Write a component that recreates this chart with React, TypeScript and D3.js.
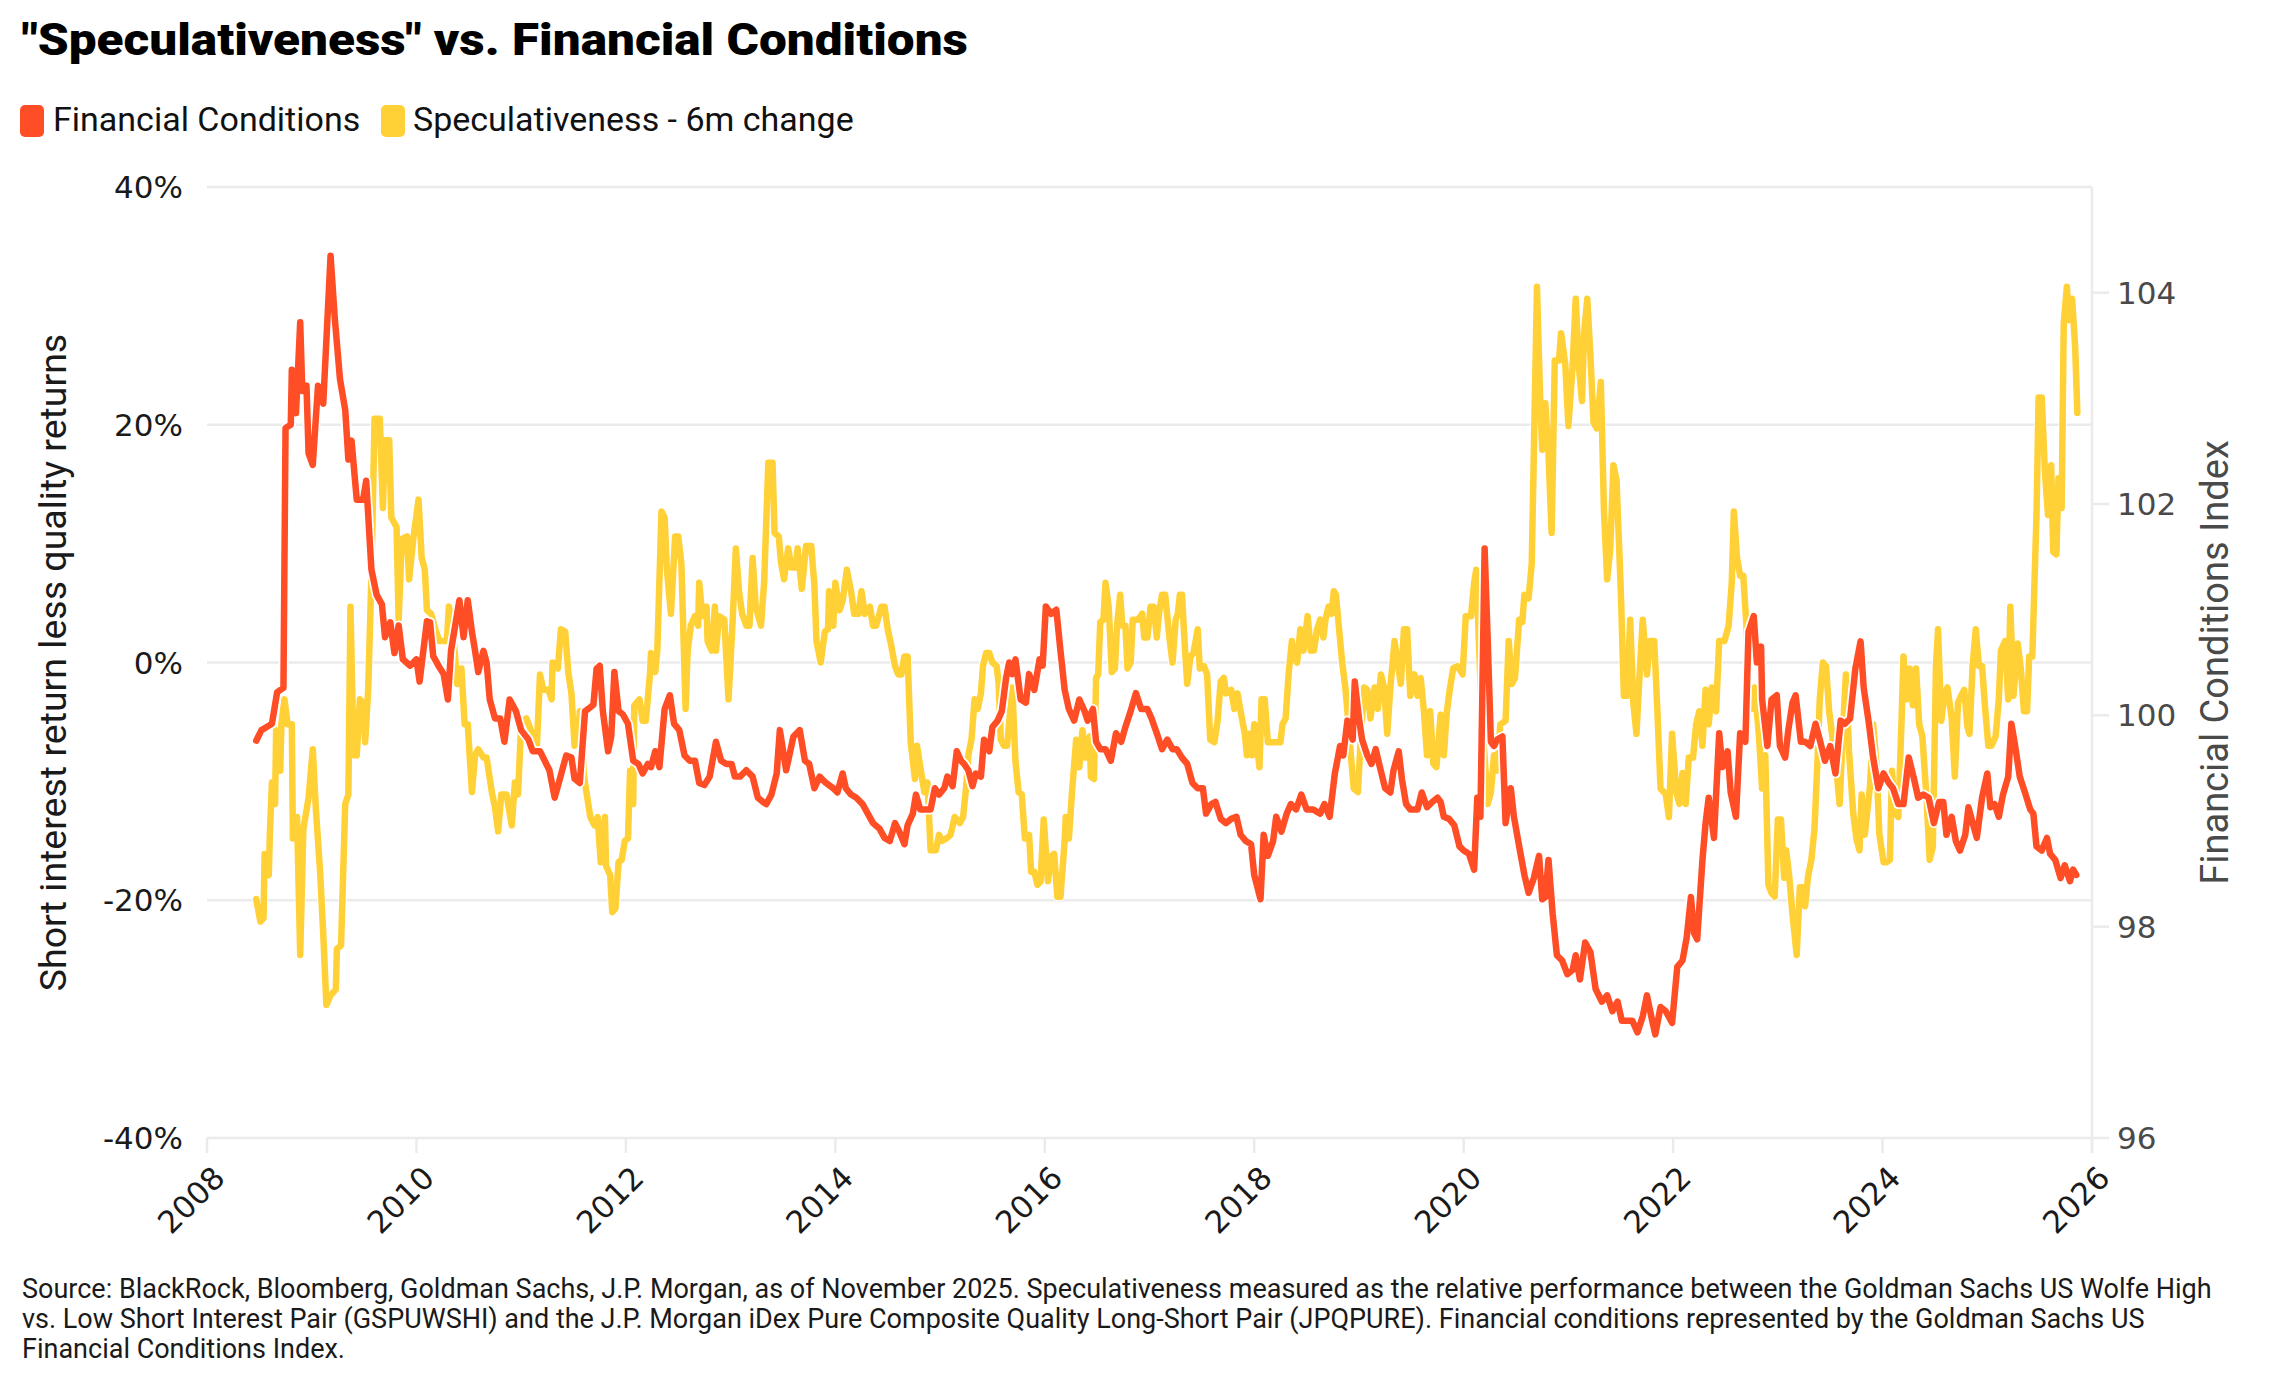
import React, { useEffect } from "react";
import * as d3 from "d3";

const xTicks = [2008, 2010, 2012, 2014, 2016, 2018, 2020, 2022, 2024, 2026];
const leftTicks = [-40, -20, 0, 20, 40];
const rightTicks = [96, 98, 100, 102, 104];

const titleText = '"Speculativeness" vs. Financial Conditions';
const legendItems = ["Financial Conditions", "Speculativeness - 6m change"];
const leftTitle = "Short interest return less quality returns";
const rightTitle = "Financial Conditions Index";
const footLines = [
  "Source: BlackRock, Bloomberg, Goldman Sachs, J.P. Morgan, as of November 2025. Speculativeness measured as the relative performance between the Goldman Sachs US Wolfe High",
  "vs. Low Short Interest Pair (GSPUWSHI) and the J.P. Morgan iDex Pure Composite Quality Long-Short Pair (JPQPURE). Financial conditions represented by the Goldman Sachs US",
  "Financial Conditions Index.",
];

// Financial Conditions Index (right axis): [year, index]
const fciSeries: [number, number][] = [
  [2008.47, 99.76], [2008.52, 99.86], [2008.57, 99.89], [2008.62, 99.92], [2008.67, 100.22], [2008.73, 100.26],
  [2008.75, 102.72], [2008.8, 102.75], [2008.81, 103.27], [2008.85, 102.86], [2008.89, 103.72], [2008.91, 103.07],
  [2008.95, 103.12], [2008.97, 102.48], [2009.01, 102.37], [2009.06, 103.12], [2009.11, 102.95], [2009.18, 104.35],
  [2009.22, 103.76], [2009.27, 103.18], [2009.32, 102.89], [2009.35, 102.42], [2009.38, 102.6], [2009.43, 102.04],
  [2009.49, 102.04], [2009.52, 102.22], [2009.57, 101.38], [2009.62, 101.14], [2009.67, 101.05], [2009.7, 100.74],
  [2009.75, 100.88], [2009.79, 100.59], [2009.83, 100.85], [2009.87, 100.53], [2009.94, 100.47], [2010.0, 100.53],
  [2010.03, 100.32], [2010.1, 100.89], [2010.13, 100.88], [2010.16, 100.56], [2010.21, 100.47], [2010.26, 100.39],
  [2010.3, 100.15], [2010.33, 100.61], [2010.38, 100.91], [2010.41, 101.09], [2010.45, 100.74], [2010.49, 101.09],
  [2010.53, 100.79], [2010.56, 100.61], [2010.59, 100.41], [2010.64, 100.61], [2010.67, 100.5], [2010.7, 100.15],
  [2010.75, 99.97], [2010.8, 99.97], [2010.84, 99.75], [2010.89, 100.15], [2010.95, 100.04], [2011.0, 99.86],
  [2011.07, 99.77], [2011.11, 99.66], [2011.18, 99.66], [2011.24, 99.54], [2011.27, 99.48], [2011.32, 99.22],
  [2011.37, 99.4], [2011.43, 99.62], [2011.48, 99.6], [2011.51, 99.4], [2011.56, 99.36], [2011.61, 100.04],
  [2011.64, 100.06], [2011.69, 100.1], [2011.72, 100.44], [2011.75, 100.47], [2011.78, 100.04], [2011.83, 99.66],
  [2011.86, 99.8], [2011.89, 100.41], [2011.93, 100.04], [2011.97, 100.01], [2012.02, 99.92], [2012.07, 99.57],
  [2012.12, 99.54], [2012.16, 99.45], [2012.21, 99.54], [2012.24, 99.51], [2012.28, 99.66], [2012.32, 99.51],
  [2012.37, 100.06], [2012.42, 100.19], [2012.46, 99.92], [2012.51, 99.86], [2012.56, 99.62], [2012.61, 99.57],
  [2012.66, 99.57], [2012.7, 99.36], [2012.75, 99.34], [2012.8, 99.42], [2012.86, 99.75], [2012.91, 99.57],
  [2012.96, 99.54], [2013.01, 99.54], [2013.04, 99.42], [2013.09, 99.42], [2013.15, 99.48], [2013.21, 99.42],
  [2013.26, 99.22], [2013.31, 99.18], [2013.34, 99.16], [2013.39, 99.25], [2013.44, 99.45], [2013.47, 99.86],
  [2013.53, 99.48], [2013.6, 99.8], [2013.66, 99.86], [2013.71, 99.57], [2013.75, 99.54], [2013.8, 99.31],
  [2013.85, 99.42], [2013.91, 99.36], [2013.98, 99.31], [2014.02, 99.27], [2014.07, 99.45], [2014.1, 99.31],
  [2014.15, 99.25], [2014.2, 99.22], [2014.26, 99.16], [2014.31, 99.07], [2014.36, 98.98], [2014.42, 98.93],
  [2014.47, 98.84], [2014.52, 98.81], [2014.57, 98.98], [2014.61, 98.9], [2014.66, 98.78], [2014.69, 98.96],
  [2014.74, 99.07], [2014.77, 99.25], [2014.81, 99.11], [2014.87, 99.11], [2014.91, 99.11], [2014.95, 99.31],
  [2014.99, 99.25], [2015.04, 99.31], [2015.07, 99.42], [2015.12, 99.33], [2015.16, 99.66], [2015.2, 99.57],
  [2015.23, 99.54], [2015.27, 99.48], [2015.31, 99.33], [2015.34, 99.45], [2015.39, 99.42], [2015.42, 99.77],
  [2015.47, 99.66], [2015.5, 99.89], [2015.55, 99.95], [2015.59, 100.04], [2015.63, 100.35], [2015.66, 100.5],
  [2015.69, 100.39], [2015.72, 100.53], [2015.77, 100.15], [2015.82, 100.12], [2015.85, 100.39], [2015.9, 100.24],
  [2015.95, 100.53], [2015.98, 100.47], [2016.01, 101.03], [2016.06, 100.96], [2016.11, 101.0], [2016.15, 100.61],
  [2016.19, 100.24], [2016.23, 100.06], [2016.28, 99.95], [2016.33, 100.15], [2016.38, 100.04], [2016.41, 99.95],
  [2016.46, 100.06], [2016.49, 99.75], [2016.53, 99.68], [2016.58, 99.68], [2016.63, 99.57], [2016.68, 99.83],
  [2016.73, 99.75], [2016.77, 99.89], [2016.82, 100.04], [2016.87, 100.21], [2016.92, 100.06], [2016.98, 100.06],
  [2017.02, 99.97], [2017.07, 99.83], [2017.12, 99.68], [2017.17, 99.77], [2017.22, 99.68], [2017.26, 99.68],
  [2017.31, 99.6], [2017.36, 99.54], [2017.41, 99.36], [2017.46, 99.31], [2017.51, 99.31], [2017.54, 99.07],
  [2017.59, 99.16], [2017.63, 99.18], [2017.68, 99.02], [2017.73, 98.98], [2017.78, 99.02], [2017.83, 99.04],
  [2017.87, 98.87], [2017.92, 98.81], [2017.97, 98.78], [2018.0, 98.49], [2018.06, 98.26], [2018.09, 98.87],
  [2018.13, 98.67], [2018.18, 98.81], [2018.21, 99.04], [2018.26, 98.9], [2018.31, 99.07], [2018.35, 99.16],
  [2018.4, 99.11], [2018.45, 99.25], [2018.5, 99.11], [2018.56, 99.11], [2018.63, 99.07], [2018.67, 99.16],
  [2018.72, 99.04], [2018.77, 99.45], [2018.82, 99.71], [2018.85, 99.62], [2018.89, 99.95], [2018.94, 99.77],
  [2018.96, 100.32], [2019.0, 99.97], [2019.03, 99.77], [2019.08, 99.62], [2019.12, 99.54], [2019.16, 99.68],
  [2019.2, 99.51], [2019.25, 99.31], [2019.3, 99.27], [2019.33, 99.48], [2019.38, 99.66], [2019.41, 99.4],
  [2019.45, 99.16], [2019.49, 99.11], [2019.56, 99.11], [2019.6, 99.27], [2019.65, 99.13], [2019.7, 99.18],
  [2019.75, 99.22], [2019.78, 99.18], [2019.81, 99.04], [2019.86, 99.02], [2019.91, 98.96], [2019.96, 98.76],
  [2020.0, 98.72], [2020.05, 98.69], [2020.1, 98.54], [2020.13, 99.22], [2020.16, 99.04], [2020.2, 101.58],
  [2020.23, 100.7], [2020.26, 99.75], [2020.29, 99.71], [2020.32, 99.77], [2020.37, 99.8], [2020.4, 98.98],
  [2020.45, 99.31], [2020.48, 99.04], [2020.53, 98.76], [2020.58, 98.49], [2020.62, 98.32], [2020.67, 98.46],
  [2020.72, 98.67], [2020.75, 98.26], [2020.78, 98.28], [2020.81, 98.63], [2020.85, 98.12], [2020.89, 97.73],
  [2020.94, 97.68], [2020.99, 97.55], [2021.04, 97.59], [2021.07, 97.73], [2021.11, 97.5], [2021.16, 97.85],
  [2021.21, 97.76], [2021.26, 97.41], [2021.32, 97.29], [2021.37, 97.35], [2021.42, 97.2], [2021.47, 97.29],
  [2021.51, 97.11], [2021.56, 97.11], [2021.61, 97.11], [2021.66, 97.0], [2021.71, 97.15], [2021.75, 97.35],
  [2021.8, 97.11], [2021.83, 96.98], [2021.88, 97.24], [2021.93, 97.2], [2021.99, 97.09], [2022.04, 97.62],
  [2022.09, 97.68], [2022.13, 97.9], [2022.17, 98.28], [2022.2, 97.94], [2022.23, 97.88], [2022.28, 98.63],
  [2022.31, 98.98], [2022.34, 99.22], [2022.39, 98.84], [2022.44, 99.83], [2022.47, 99.51], [2022.52, 99.66],
  [2022.55, 99.27], [2022.6, 99.04], [2022.64, 99.83], [2022.69, 99.75], [2022.72, 100.79], [2022.77, 100.94],
  [2022.8, 100.5], [2022.84, 100.65], [2022.85, 100.15], [2022.9, 99.71], [2022.94, 100.15], [2022.99, 100.19],
  [2023.02, 99.71], [2023.07, 99.6], [2023.1, 99.86], [2023.14, 100.12], [2023.17, 100.19], [2023.22, 99.75],
  [2023.26, 99.75], [2023.31, 99.71], [2023.36, 99.92], [2023.4, 99.77], [2023.45, 99.57], [2023.5, 99.71],
  [2023.55, 99.45], [2023.6, 99.95], [2023.64, 99.92], [2023.69, 99.97], [2023.74, 100.44], [2023.79, 100.7],
  [2023.82, 100.26], [2023.87, 99.92], [2023.91, 99.6], [2023.96, 99.31], [2024.01, 99.45], [2024.06, 99.36],
  [2024.1, 99.31], [2024.15, 99.16], [2024.2, 99.16], [2024.25, 99.6], [2024.3, 99.4], [2024.34, 99.22],
  [2024.39, 99.25], [2024.44, 99.22], [2024.49, 98.98], [2024.54, 99.18], [2024.58, 99.18], [2024.61, 98.87],
  [2024.66, 99.04], [2024.7, 98.81], [2024.74, 98.72], [2024.79, 98.87], [2024.82, 99.13], [2024.85, 99.02],
  [2024.9, 98.84], [2024.95, 99.22], [2025.0, 99.45], [2025.03, 99.13], [2025.07, 99.16], [2025.11, 99.04],
  [2025.15, 99.25], [2025.2, 99.42], [2025.23, 99.92], [2025.26, 99.75], [2025.31, 99.42], [2025.36, 99.27],
  [2025.41, 99.11], [2025.44, 99.07], [2025.47, 98.76], [2025.52, 98.72], [2025.57, 98.84], [2025.6, 98.69],
  [2025.65, 98.63], [2025.7, 98.46], [2025.74, 98.58], [2025.79, 98.43], [2025.82, 98.54], [2025.85, 98.49],
];

// Speculativeness 6m change (left axis, %): [year, value]
const specSeries: [number, number][] = [
  [2008.47, -19.9], [2008.51, -21.8], [2008.54, -21.5], [2008.55, -16.1], [2008.59, -17.9], [2008.6, -14.5],
  [2008.62, -10.1], [2008.65, -11.9], [2008.66, -5.7], [2008.7, -9.1], [2008.71, -5.2], [2008.74, -3.1],
  [2008.77, -5.2], [2008.81, -5.2], [2008.82, -14.8], [2008.86, -13.0], [2008.89, -24.6], [2008.92, -14.0],
  [2008.97, -11.4], [2009.01, -7.3], [2009.04, -12.4], [2009.08, -17.6], [2009.11, -22.8], [2009.14, -28.8],
  [2009.18, -28.0], [2009.23, -27.5], [2009.24, -24.1], [2009.28, -23.8], [2009.32, -11.9], [2009.35, -11.1],
  [2009.37, 4.7], [2009.4, -7.8], [2009.43, -7.8], [2009.46, -3.1], [2009.49, -3.4], [2009.51, -6.7],
  [2009.54, -2.1], [2009.57, 7.3], [2009.6, 20.5], [2009.65, 20.5], [2009.68, 13.0], [2009.7, 18.7],
  [2009.74, 18.7], [2009.76, 12.2], [2009.81, 11.4], [2009.83, 3.6], [2009.86, 10.4], [2009.91, 10.6],
  [2009.93, 7.0], [2009.97, 10.4], [2010.02, 13.7], [2010.05, 8.8], [2010.08, 7.8], [2010.1, 4.4],
  [2010.14, 4.1], [2010.18, 2.8], [2010.22, 1.8], [2010.29, 1.8], [2010.31, 4.7], [2010.35, 2.6],
  [2010.39, -1.8], [2010.43, -0.5], [2010.46, -5.2], [2010.49, -5.2], [2010.53, -10.9], [2010.56, -7.8],
  [2010.59, -7.3], [2010.64, -8.0], [2010.67, -8.0], [2010.72, -10.9], [2010.75, -12.2], [2010.78, -14.2],
  [2010.81, -11.1], [2010.86, -11.1], [2010.91, -13.7], [2010.94, -10.1], [2010.97, -11.1], [2011.0, -5.2],
  [2011.05, -4.7], [2011.15, -7.0], [2011.18, -1.0], [2011.21, -2.3], [2011.26, -2.3], [2011.29, -3.1],
  [2011.3, 0.0], [2011.35, -0.5], [2011.38, 2.8], [2011.42, 2.6], [2011.45, -0.8], [2011.48, -2.6],
  [2011.51, -7.0], [2011.54, -6.7], [2011.56, -4.1], [2011.6, -9.6], [2011.66, -13.0], [2011.7, -13.7],
  [2011.73, -13.0], [2011.76, -16.8], [2011.8, -13.0], [2011.81, -17.1], [2011.85, -17.9], [2011.87, -21.0],
  [2011.9, -20.7], [2011.93, -16.8], [2011.96, -16.6], [2011.99, -15.0], [2012.02, -14.8], [2012.04, -9.1],
  [2012.07, -11.9], [2012.08, -3.6], [2012.13, -3.1], [2012.16, -4.9], [2012.19, -4.9], [2012.23, -1.0],
  [2012.24, 0.8], [2012.28, -0.8], [2012.3, 1.0], [2012.34, 12.7], [2012.37, 12.2], [2012.39, 8.0],
  [2012.43, 4.1], [2012.47, 10.6], [2012.5, 10.6], [2012.53, 8.3], [2012.57, -3.9], [2012.59, 1.0],
  [2012.62, 3.1], [2012.66, 3.9], [2012.69, 3.1], [2012.7, 6.7], [2012.73, 3.9], [2012.77, 4.7],
  [2012.78, 1.8], [2012.82, 1.0], [2012.85, 4.7], [2012.86, 1.0], [2012.89, 3.9], [2012.94, 3.6],
  [2012.98, -3.1], [2013.02, 3.6], [2013.05, 9.6], [2013.08, 6.0], [2013.11, 4.1], [2013.15, 3.1],
  [2013.18, 3.1], [2013.21, 8.8], [2013.24, 4.7], [2013.29, 3.1], [2013.32, 6.7], [2013.36, 16.8],
  [2013.4, 16.8], [2013.42, 10.9], [2013.46, 10.6], [2013.48, 8.5], [2013.51, 7.0], [2013.55, 9.6],
  [2013.58, 8.0], [2013.62, 8.0], [2013.64, 9.6], [2013.68, 6.2], [2013.72, 9.8], [2013.77, 9.8],
  [2013.8, 6.5], [2013.82, 1.8], [2013.86, 0.0], [2013.9, 2.6], [2013.93, 2.8], [2013.94, 6.0],
  [2013.98, 3.1], [2014.0, 6.7], [2014.04, 4.4], [2014.07, 5.2], [2014.11, 7.8], [2014.15, 6.0],
  [2014.18, 4.1], [2014.22, 4.1], [2014.25, 6.0], [2014.28, 4.1], [2014.33, 4.7], [2014.36, 3.1],
  [2014.39, 3.1], [2014.44, 4.7], [2014.47, 4.7], [2014.5, 2.8], [2014.53, 1.6], [2014.57, -0.3],
  [2014.6, -1.0], [2014.63, -1.0], [2014.66, 0.5], [2014.69, 0.5], [2014.72, -6.7], [2014.76, -9.8],
  [2014.78, -7.0], [2014.82, -9.3], [2014.85, -10.9], [2014.88, -10.1], [2014.91, -15.8], [2014.96, -15.8],
  [2014.99, -14.5], [2015.02, -15.0], [2015.06, -14.8], [2015.1, -14.5], [2015.14, -13.0], [2015.19, -13.5],
  [2015.22, -13.0], [2015.25, -10.4], [2015.27, -7.8], [2015.3, -6.5], [2015.33, -3.1], [2015.36, -3.9],
  [2015.39, -2.6], [2015.41, -0.3], [2015.44, 0.8], [2015.47, 0.8], [2015.5, 0.0], [2015.54, -0.3],
  [2015.56, -1.8], [2015.58, -6.5], [2015.61, -7.0], [2015.64, -7.0], [2015.67, -4.1], [2015.69, -2.1],
  [2015.72, -8.3], [2015.75, -10.9], [2015.78, -11.1], [2015.81, -14.8], [2015.85, -14.5], [2015.87, -17.6],
  [2015.9, -17.6], [2015.93, -18.7], [2015.96, -18.4], [2015.99, -13.2], [2016.03, -18.4], [2016.06, -16.3],
  [2016.09, -16.1], [2016.12, -19.7], [2016.15, -19.7], [2016.19, -15.0], [2016.2, -13.0], [2016.23, -14.8],
  [2016.26, -10.9], [2016.3, -6.5], [2016.33, -8.8], [2016.36, -5.7], [2016.39, -8.0], [2016.43, -6.2],
  [2016.44, -9.6], [2016.47, -9.8], [2016.49, -1.3], [2016.51, -1.0], [2016.53, 3.4], [2016.56, 3.6],
  [2016.58, 6.7], [2016.61, 4.7], [2016.64, -0.8], [2016.67, -0.5], [2016.69, 3.1], [2016.72, 5.7],
  [2016.74, 3.1], [2016.77, 3.1], [2016.79, -0.5], [2016.82, 0.0], [2016.84, 3.6], [2016.89, 3.6],
  [2016.93, 4.1], [2016.95, 2.1], [2016.98, 2.1], [2017.01, 4.7], [2017.04, 4.7], [2017.07, 2.1],
  [2017.09, 4.1], [2017.12, 5.7], [2017.15, 5.7], [2017.19, 2.1], [2017.22, 0.0], [2017.25, 3.6],
  [2017.27, 4.1], [2017.29, 5.7], [2017.31, 5.7], [2017.34, 1.0], [2017.36, -1.8], [2017.39, 0.5],
  [2017.42, 0.8], [2017.46, 2.8], [2017.48, -0.5], [2017.52, -0.3], [2017.55, -1.0], [2017.58, -6.5],
  [2017.62, -6.7], [2017.65, -4.9], [2017.68, -1.6], [2017.71, -1.3], [2017.73, -2.6], [2017.78, -2.3],
  [2017.81, -3.9], [2017.84, -2.6], [2017.87, -4.1], [2017.91, -6.0], [2017.93, -7.8], [2017.95, -6.0],
  [2017.98, -7.8], [2018.0, -5.2], [2018.03, -7.3], [2018.05, -8.8], [2018.07, -3.1], [2018.1, -3.1],
  [2018.13, -6.7], [2018.17, -6.7], [2018.22, -6.7], [2018.25, -6.7], [2018.27, -5.2], [2018.3, -4.7],
  [2018.33, -0.8], [2018.36, 1.8], [2018.38, 0.3], [2018.41, 0.0], [2018.44, 2.8], [2018.47, 1.0],
  [2018.51, 3.9], [2018.54, 1.0], [2018.57, 1.0], [2018.6, 2.8], [2018.63, 3.6], [2018.66, 2.1],
  [2018.68, 3.6], [2018.71, 4.7], [2018.74, 4.1], [2018.76, 6.0], [2018.78, 5.7], [2018.84, 0.0],
  [2018.87, -2.1], [2018.89, -4.1], [2018.92, -7.5], [2018.95, -10.6], [2018.99, -10.9], [2019.02, -6.0],
  [2019.05, -2.1], [2019.08, -2.3], [2019.11, -4.7], [2019.15, -2.1], [2019.18, -3.9], [2019.21, -1.0],
  [2019.24, -2.1], [2019.27, -6.0], [2019.3, -2.1], [2019.34, 1.8], [2019.37, 0.0], [2019.4, -1.8],
  [2019.43, 2.8], [2019.46, 2.8], [2019.49, -2.8], [2019.53, -1.0], [2019.56, -2.8], [2019.59, -1.3],
  [2019.62, -4.1], [2019.65, -7.8], [2019.68, -4.1], [2019.71, -8.5], [2019.74, -8.8], [2019.78, -4.4],
  [2019.81, -7.8], [2019.84, -4.1], [2019.87, -2.1], [2019.9, -0.5], [2019.94, -0.3], [2019.99, -1.0],
  [2020.02, 3.9], [2020.07, 3.9], [2020.1, 6.7], [2020.12, 7.8], [2020.17, -4.0], [2020.23, -11.9],
  [2020.26, -10.9], [2020.29, -7.8], [2020.32, -9.1], [2020.35, -5.2], [2020.4, -4.9], [2020.43, 1.8],
  [2020.46, -1.8], [2020.49, -1.3], [2020.53, 3.6], [2020.56, 3.4], [2020.58, 5.7], [2020.62, 5.4],
  [2020.65, 8.3], [2020.67, 17.6], [2020.7, 31.6], [2020.73, 22.3], [2020.75, 17.9], [2020.78, 21.8],
  [2020.81, 17.6], [2020.84, 10.9], [2020.87, 25.4], [2020.91, 25.4], [2020.93, 27.7], [2020.97, 25.1],
  [2021.0, 19.9], [2021.04, 24.9], [2021.07, 30.6], [2021.1, 24.9], [2021.13, 22.0], [2021.15, 27.7],
  [2021.18, 30.6], [2021.21, 25.9], [2021.24, 20.2], [2021.27, 19.7], [2021.31, 23.6], [2021.34, 12.7],
  [2021.37, 7.0], [2021.4, 9.6], [2021.43, 16.6], [2021.46, 15.3], [2021.5, 6.2], [2021.53, -2.8],
  [2021.56, -2.8], [2021.59, 3.6], [2021.62, -3.4], [2021.65, -6.0], [2021.68, -1.0], [2021.71, 3.6],
  [2021.75, -1.0], [2021.78, 1.8], [2021.82, 1.8], [2021.85, -4.1], [2021.88, -10.6], [2021.93, -11.1],
  [2021.96, -13.0], [2021.99, -6.0], [2022.03, -10.9], [2022.06, -11.9], [2022.09, -9.3], [2022.12, -11.9],
  [2022.15, -8.0], [2022.19, -8.0], [2022.22, -5.2], [2022.25, -4.1], [2022.28, -7.0], [2022.31, -2.3],
  [2022.34, -5.2], [2022.37, -2.1], [2022.41, -4.1], [2022.44, 1.8], [2022.49, 1.8], [2022.53, 3.1],
  [2022.56, 6.7], [2022.58, 12.7], [2022.61, 8.8], [2022.64, 7.3], [2022.67, 7.3], [2022.7, 3.1],
  [2022.72, -3.6], [2022.75, -3.9], [2022.78, -2.1], [2022.82, -6.2], [2022.85, -10.6], [2022.88, -7.8],
  [2022.91, -18.7], [2022.94, -19.4], [2022.97, -19.7], [2023.0, -13.2], [2023.03, -13.2], [2023.06, -18.1],
  [2023.08, -15.8], [2023.11, -18.1], [2023.14, -21.2], [2023.18, -24.6], [2023.21, -18.9], [2023.24, -18.9],
  [2023.26, -20.5], [2023.29, -17.9], [2023.32, -16.6], [2023.35, -14.0], [2023.38, -8.0], [2023.4, -3.1],
  [2023.43, 0.0], [2023.46, -0.3], [2023.49, -4.1], [2023.52, -6.2], [2023.56, -9.1], [2023.59, -11.9],
  [2023.62, -6.0], [2023.65, -1.0], [2023.68, -7.5], [2023.72, -12.7], [2023.75, -14.8], [2023.78, -15.8],
  [2023.8, -11.1], [2023.83, -14.5], [2023.88, -10.4], [2023.91, -5.2], [2023.94, -8.3], [2023.97, -14.5],
  [2024.01, -16.8], [2024.04, -16.8], [2024.07, -16.6], [2024.09, -9.1], [2024.12, -12.7], [2024.15, -13.0],
  [2024.18, -5.2], [2024.2, 0.5], [2024.23, -3.1], [2024.26, -0.5], [2024.29, -3.6], [2024.32, -0.5],
  [2024.35, -5.2], [2024.38, -6.2], [2024.42, -11.4], [2024.45, -16.6], [2024.48, -15.5], [2024.51, -0.3],
  [2024.53, 2.8], [2024.56, -4.9], [2024.59, -2.8], [2024.62, -2.1], [2024.66, -4.7], [2024.69, -9.6],
  [2024.72, -3.4], [2024.75, -2.8], [2024.78, -2.3], [2024.81, -5.4], [2024.83, -6.0], [2024.86, -0.3],
  [2024.89, 2.8], [2024.92, -0.3], [2024.95, -0.3], [2024.98, -3.9], [2025.01, -7.0], [2025.04, -7.0],
  [2025.08, -6.2], [2025.11, -3.1], [2025.13, 1.0], [2025.17, 1.8], [2025.2, -3.1], [2025.22, 4.7],
  [2025.25, -2.8], [2025.29, 1.6], [2025.32, -0.5], [2025.35, -4.1], [2025.38, -4.1], [2025.4, 0.5],
  [2025.43, 0.5], [2025.47, 12.4], [2025.49, 22.3], [2025.52, 22.3], [2025.55, 16.1], [2025.58, 12.4],
  [2025.61, 16.6], [2025.63, 9.3], [2025.66, 9.1], [2025.68, 15.5], [2025.71, 13.0], [2025.73, 28.5],
  [2025.76, 31.6], [2025.78, 28.8], [2025.81, 30.6], [2025.84, 26.4], [2025.86, 21.0],
];

const RED = "#ff4d26";
const YELLOW = "#ffd136";
const GRID = "#ebebeb";

export default function App() {
  useEffect(() => {
    document.body.style.margin = "0";
  }, []);

  const W = 2270;
  const H = 1384;
  const left = 207;
  const right = 2092;
  const top = 187;
  const bottom = 1138;

  const x = d3.scaleLinear().domain([2008, 2026]).range([left, right]);
  const yL = d3.scaleLinear().domain([-40, 40]).range([bottom, top]);
  const yR = d3.scaleLinear().domain([96, 105]).range([bottom, top]);

  const specLine = d3
    .line<[number, number]>()
    .x((d) => x(d[0]))
    .y((d) => yL(d[1]))
    .curve(d3.curveLinear);
  const fciLine = d3
    .line<[number, number]>()
    .x((d) => x(d[0]))
    .y((d) => yR(d[1]))
    .curve(d3.curveLinear);

  const tickFont = "'DejaVu Sans', sans-serif";
  const textFont = "Roboto, 'Noto Sans', sans-serif";

  return (
    <svg
      width={W}
      height={H}
      viewBox={`0 0 ${W} ${H}`}
      style={{ display: "block", background: "#fff" }}
    >
      <rect x={0} y={0} width={W} height={H} fill="#fff" />

      {/* Title */}
      <text
        x={22}
        y={55}
        fontFamily={textFont}
        fontWeight={900}
        fontSize={44}
        fill="#000"
        textLength={946}
        lengthAdjust="spacingAndGlyphs"
      >
        {titleText}
      </text>

      {/* Legend */}
      <g>
        <rect x={20} y={105} width={24} height={32} rx={5} fill={RED} />
        <text x={53} y={131} fontFamily={textFont} fontSize={34} fill="#111">
          {legendItems[0]}
        </text>
        <rect x={381} y={105} width={24} height={32} rx={5} fill={YELLOW} />
        <text x={413} y={131} fontFamily={textFont} fontSize={34} fill="#111">
          {legendItems[1]}
        </text>
      </g>

      {/* Grid lines (left axis) */}
      {leftTicks.map((t) => (
        <line
          key={`g${t}`}
          x1={left}
          x2={right}
          y1={yL(t)}
          y2={yL(t)}
          stroke={GRID}
          strokeWidth={2.5}
        />
      ))}

      {/* Right axis line and ticks */}
      <line x1={right} x2={right} y1={top} y2={bottom + 15} stroke={GRID} strokeWidth={2.5} />
      {rightTicks.map((t) => (
        <line
          key={`rt${t}`}
          x1={right}
          x2={right + 17}
          y1={yR(t)}
          y2={yR(t)}
          stroke={GRID}
          strokeWidth={2.5}
        />
      ))}

      {/* Bottom ticks */}
      {xTicks.map((t) => (
        <line
          key={`xt${t}`}
          x1={x(t)}
          x2={x(t)}
          y1={bottom}
          y2={bottom + 15}
          stroke={GRID}
          strokeWidth={2.5}
        />
      ))}

      {/* Left tick labels */}
      {leftTicks.map((t) => (
        <text
          key={`lt${t}`}
          x={183}
          y={yL(t)}
          textAnchor="end"
          dominantBaseline="central"
          fontFamily={tickFont}
          fontSize={31}
          fill="#1a1a1a"
        >
          {`${t}%`}
        </text>
      ))}

      {/* Right tick labels */}
      {rightTicks.map((t) => (
        <text
          key={`rl${t}`}
          x={2117}
          y={yR(t)}
          textAnchor="start"
          dominantBaseline="central"
          fontFamily={tickFont}
          fontSize={31}
          fill="#4a4a4a"
        >
          {t}
        </text>
      ))}

      {/* X tick labels */}
      {xTicks.map((t) => (
        <text
          key={`xl${t}`}
          transform={`translate(${x(t) + 12},${bottom + 34}) rotate(-45)`}
          textAnchor="end"
          dominantBaseline="central"
          fontFamily={tickFont}
          fontSize={31}
          fill="#1a1a1a"
        >
          {t}
        </text>
      ))}

      {/* Axis titles */}
      <text
        transform={`translate(66,${(top + bottom) / 2}) rotate(-90)`}
        textAnchor="middle"
        fontFamily={textFont}
        fontSize={37.5}
        fill="#1a1a1a"
      >
        {leftTitle}
      </text>
      <text
        transform={`translate(2228,${(top + bottom) / 2}) rotate(-90)`}
        textAnchor="middle"
        fontFamily={textFont}
        fontSize={38}
        fill="#4a4a4a"
      >
        {rightTitle}
      </text>

      {/* Series */}
      <path
        d={specLine(specSeries) || ""}
        fill="none"
        stroke="#fff"
        strokeWidth={9}
        strokeLinejoin="round"
        strokeLinecap="round"
        opacity={0.6}
      />
      <path
        d={specLine(specSeries) || ""}
        fill="none"
        stroke={YELLOW}
        strokeWidth={6.5}
        strokeLinejoin="round"
        strokeLinecap="round"
      />
      <path
        d={fciLine(fciSeries) || ""}
        fill="none"
        stroke="#fff"
        strokeWidth={10}
        strokeLinejoin="round"
        strokeLinecap="round"
      />
      <path
        d={fciLine(fciSeries) || ""}
        fill="none"
        stroke={RED}
        strokeWidth={6.5}
        strokeLinejoin="round"
        strokeLinecap="round"
      />

      {/* Footnote */}
      {footLines.map((line, i) => (
        <text
          key={`f${i}`}
          x={22}
          y={1298 + i * 30}
          fontFamily={textFont}
          fontSize={27}
          fill="#1a1a1a"
        >
          {line}
        </text>
      ))}
    </svg>
  );
}
